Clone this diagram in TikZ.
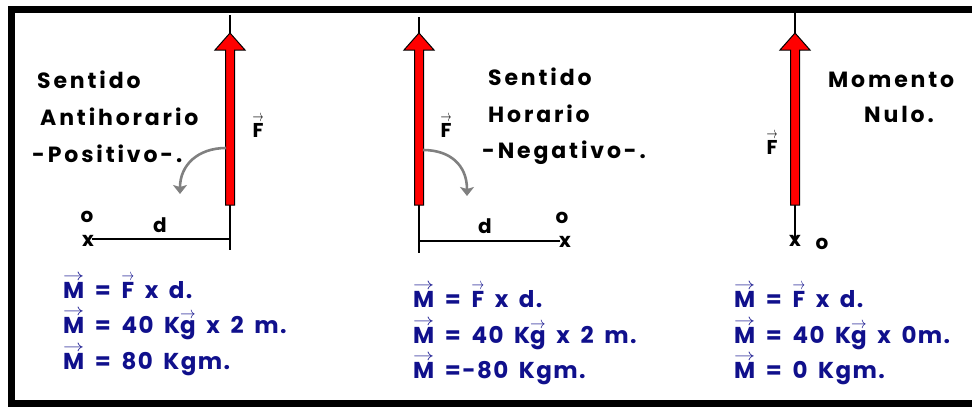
\documentclass[tikz,border=0pt]{standalone}
\usepackage{amsmath}
\usepackage{graphicx}
\usepackage{fontspec}
\setmainfont{Poppins}
\newfontfamily\rotulo[LetterSpace=13]{Poppins}
\newfontfamily\formula[LetterSpace=6,WordSpace=1.7]{Poppins}
\usetikzlibrary{positioning,arrows.meta}
\definecolor{fuerzared}{RGB}{255,0,0}
\definecolor{eqblue}{RGB}{16,16,140}
\tikzset{%
  marco/.style = {line width=7pt},
  linea/.style = {line width=1.3pt},
  fuerza/.style = {fill=fuerzared,draw=black,line width=1pt},
  giro/.style = {draw=gray,line width=2.6pt,
        -{Stealth[length=9pt,width=14pt,inset=2pt]}},
  lbl/.style = {font=\rotulo\bfseries\fontsize{22}{26}\selectfont,
        inner sep=0pt,anchor=base west},
  vec/.style = {font=\rotulo\bfseries\fontsize{20}{24}\selectfont,
        inner sep=0pt,anchor=base},
  eq/.style = {text=eqblue,font=\formula\bfseries\fontsize{23}{26}\selectfont,
        inner sep=0pt,anchor=base west}
}
% letra con flecha encima
\newlength{\vfalto}
\newsavebox{\vfcaja}
\newcommand{\vf}[1]{%
  \sbox{\vfcaja}{#1}%
  \setlength{\vfalto}{\ht\vfcaja}\addtolength{\vfalto}{1pt}%
  \rlap{\raisebox{\vfalto}{\resizebox{\wd\vfcaja}{6pt}{$\rightarrow$}}}%
  \usebox{\vfcaja}}
% flecha roja de la fuerza, centrada en #1
\newcommand{\flecha}[1]{%
  \filldraw[fuerza] (#1-4.5,205) -- (#1-4.5,50) -- (#1-15,50) -- (#1,33)
    -- (#1+15,50) -- (#1+4.5,50) -- (#1+4.5,205) -- cycle;}

\begin{document}
\begin{tikzpicture}[x=1pt,y=-1pt]
    \useasboundingbox (0,0) rectangle (972,407);
    \draw[marco] (975,9) -- (11,9) -- (11,403) -- (975,403);

    % primer caso
    \coordinate (top-1) at (230,15);
    \coordinate (base-1) at (230,250);
    \coordinate (foot-1) at (230,239);
    \coordinate (pivot-1) at (92,239);
    \draw[linea] (top-1) -- (base-1);
    \draw[linea] (pivot-1) -- (foot-1);
    \flecha{230}
    \coordinate (g1-start) at (226,148);
    \coordinate (g1-end) at (180,194);
    \draw[giro] (g1-start) .. controls (198,148) and (180,165) .. (g1-end);
    \node[lbl] (sent-1) at (37,88) {Sentido};
    \node[lbl] (anti) at (40,125) {Antihorario};
    \node[lbl] (pos) at (32,162) {-Positivo-.};
    \node[vec] (F-1) at (258,137) {\vf{F}};
    \node[vec] (d-1) at (160,232) {d};
    \node[vec] (o-1) at (87,222) {o};
    \node[vec] (x-1) at (88,246) {x};
    \node[eq] (m1-1) at (63,298) {\vf{M} = \vf{F} x d.};
    \node[eq] (m1-2) at (63,333) {\vf{M} = 40 K\vf{g} x 2 m.};
    \node[eq] (m1-3) at (63,369) {\vf{M} = 80 Kgm.};

    % segundo caso
    \coordinate (top-2) at (419,17);
    \coordinate (base-2) at (419,253);
    \coordinate (foot-2) at (419,241);
    \coordinate (pivot-2) at (560,241);
    \draw[linea] (top-2) -- (base-2);
    \draw[linea] (foot-2) -- (pivot-2);
    \flecha{419}
    \coordinate (g2-start) at (423,150);
    \coordinate (g2-end) at (467,196);
    \draw[giro] (g2-start) .. controls (450,150) and (467,165) .. (g2-end);
    \node[lbl] (sent-2) at (488,85) {Sentido};
    \node[lbl] (hor) at (488,122) {Horario};
    \node[lbl] (neg) at (482,158) {-Negativo-.};
    \node[vec] (F-2) at (446,137) {\vf{F}};
    \node[vec] (d-2) at (485,233) {d};
    \node[vec] (o-2) at (562,223) {o};
    \node[vec] (x-2) at (565,247) {x};
    \node[eq] (m2-1) at (413,307) {\vf{M} = \vf{F} x d.};
    \node[eq] (m2-2) at (413,343) {\vf{M} = 40 K\vf{g} x 2 m.};
    \node[eq] (m2-3) at (413,378) {\vf{M} =-80 Kgm.};

    % tercer caso
    \coordinate (top-3) at (795,12);
    \coordinate (base-3) at (795,240);
    \draw[linea] (top-3) -- (base-3);
    \flecha{795}
    \node[lbl] (mom) at (828,87) {Momento};
    \node[lbl] (nulo) at (864,122) {Nulo.};
    \node[vec] (F-3) at (772,154) {\vf{F}};
    \node[vec] (x-3) at (795,246) {x};
    \node[vec] (o-3) at (822,249) {o};
    \node[eq] (m3-1) at (734,307) {\vf{M} = \vf{F} x d.};
    \node[eq] (m3-2) at (734,343) {\vf{M} = 40 K\vf{g} x 0m.};
    \node[eq] (m3-3) at (734,378) {\vf{M} = 0 Kgm.};
\end{tikzpicture}
\end{document}
